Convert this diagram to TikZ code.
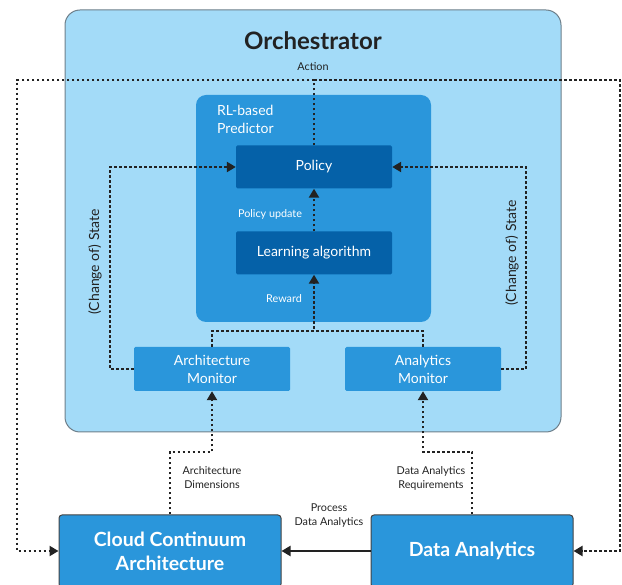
\documentclass[tikz,border=0pt]{standalone}
\usepackage{fontspec}
\setmainfont{Lato}
\usetikzlibrary{arrows.meta}
\definecolor{orchfill}{HTML}{A3DBF8}
\definecolor{orchline}{HTML}{6E7F8A}
\definecolor{midblue}{HTML}{2A96DB}
\definecolor{darkblue}{HTML}{0561A8}
\definecolor{ink}{HTML}{222222}
\tikzset{
  orchbox/.style={draw=orchline,line width=1pt,fill=orchfill,rounded corners=15pt,minimum width=496pt,minimum height=422pt,inner sep=0pt},
  rlbox/.style={fill=midblue,rounded corners=10pt,minimum width=235pt,minimum height=227pt,inner sep=0pt},
  innerbox/.style={fill=darkblue,rounded corners=1.5pt,minimum width=156pt,minimum height=43pt,text=white,font=\fontsize{14}{16}\selectfont,inner sep=0pt},
  monbox/.style={fill=midblue,rounded corners=1.5pt,minimum width=156pt,minimum height=44pt,text=white,font=\fontsize{14}{18}\selectfont,align=center,inner sep=0pt},
  bigbox/.style={draw=ink!85,line width=1pt,fill=midblue,rounded corners=3pt,minimum height=72pt,text=white,font=\bfseries\fontsize{19.5}{24}\selectfont,align=center,inner sep=0pt},
  dotline/.style={line width=2.9pt,dash pattern=on 2.6pt off 2.4pt,ink},
  tip/.style={-{Triangle[length=9pt,width=10pt]}},
  smalllabel/.style={font=\fontsize{10.8}{14}\selectfont,text=ink,align=center,inner sep=0pt},
  whitelabel/.style={font=\fontsize{10.8}{14}\selectfont,text=white,align=center,inner sep=0pt},
  statelabel/.style={font=\fontsize{14}{16}\selectfont,text=ink,rotate=90,inner sep=0pt},
}
\begin{document}
\begin{tikzpicture}[x=1pt,y=-1pt]
\useasboundingbox (0,0) rectangle (622,585);
\clip (0,0) rectangle (622,585);
\node[orchbox] (orch) at (313,221) {};
\node[font=\bfseries\fontsize{24}{28}\selectfont,text=ink] (title) at (313,41) {Orchestrator};
\node[smalllabel] (action) at (313,67) {Action};
\node[rlbox] (rl) at (313.5,208.5) {};
\node[font=\fontsize{14}{18}\selectfont,text=white,align=left,anchor=west,inner sep=0pt] (rltext) at (217,119) {RL-based\\Predictor};
\node[innerbox] (policy) at (314,167) {Policy};
\node[innerbox] (learn) at (314,253) {Learning algorithm};
\node[whitelabel] (pupd) at (270,214) {Policy update};
\node[whitelabel] (reward) at (284,299) {Reward};
\node[monbox] (archmon) at (212,369) {Architecture\\Monitor};
\node[monbox] (anamon) at (423,369) {Analytics\\Monitor};
\node[statelabel] (statel) at (95,262) {(Change of) State};
\node[statelabel] (stater) at (512,253) {(Change of) State};
\node[bigbox,minimum width=222pt] (cloud) at (170,551) {Cloud Continuum\\Architecture};
\node[bigbox,minimum width=202pt] (data) at (472,551) {Data Analytics};
\node[smalllabel] (archdim) at (212,478) {Architecture\\Dimensions};
\node[smalllabel] (dareq) at (431,478) {Data Analytics\\Requirements};
\node[smalllabel] (proc) at (329,516) {Process\\Data Analytics};
\coordinate (tl) at (17,80);
\coordinate (tr) at (620,80);
\coordinate (sl) at (110,167);
\coordinate (sr) at (526,167);
% action
\draw[dotline,tip] (policy.north) |- (tl) |- (cloud.west);
\draw[dotline,tip] (policy.north |- tl) -- (tr) |- (data.east);
% policy update
\draw[dotline,tip] (learn.north) -- (policy.south);
% reward
\draw[dotline,tip] (archmon.north) |- (learn.south |- 0,331) -- (learn.south);
\draw[dotline] (anamon.north) |- (learn.south |- 0,331);
% state
\draw[dotline,tip] (archmon.west) -| (sl) -- (policy.west);
\draw[dotline,tip] (anamon.east) -| (sr) -- (policy.east);
% bottom
\draw[dotline,tip] (cloud.north) |- (archmon.south |- 0,452) -- (archmon.south);
\draw[dotline,tip] (data.north) |- (anamon.south |- 0,452) -- (anamon.south);
\draw[line width=2pt,ink,-{Triangle[length=9pt,width=10pt]}] (data.west) -- (cloud.east);
\end{tikzpicture}
\end{document}
